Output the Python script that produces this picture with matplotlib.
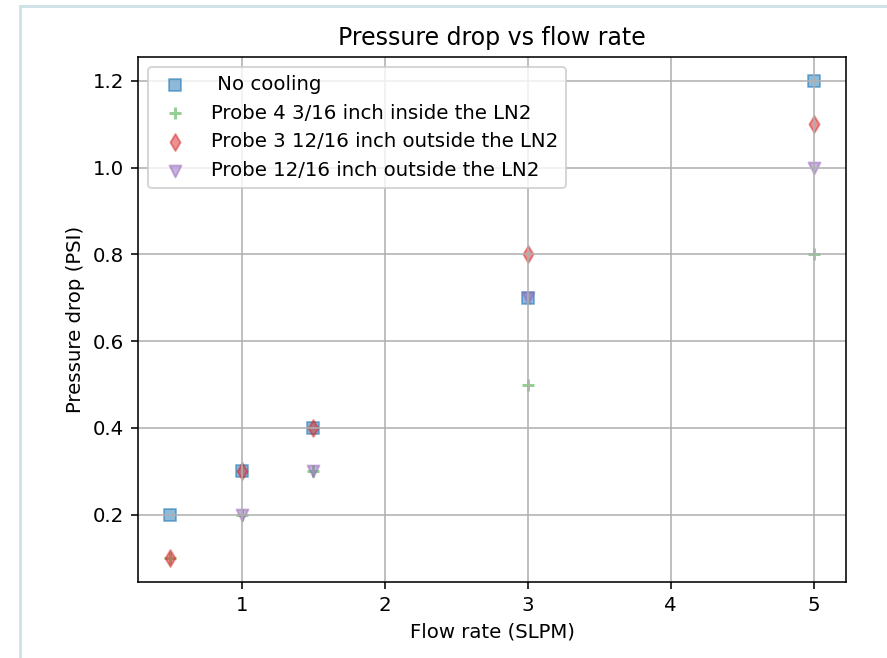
import matplotlib
matplotlib.use('Agg')
import matplotlib.pyplot as plt
from matplotlib.lines import Line2D

# flow rates (SLPM) and pressure drops (PSI)
flow_no_cooling = [0.5, 1, 1.5, 3, 5]
dp_no_cooling = [0.2, 0.3, 0.4, 0.7, 1.2]

flow_probe4 = [0.5, 1, 1.5, 3, 5]
dp_probe4 = [0.1, 0.2, 0.3, 0.5, 0.8]

flow_probe3 = [0.5, 1, 1.5, 3, 5]
dp_probe3 = [0.1, 0.3, 0.4, 0.8, 1.1]

flow_probe = [1, 1.5, 3, 5]
dp_probe = [0.2, 0.3, 0.7, 1.0]

dpi = 142
fig = plt.figure(figsize=(887 / dpi, 658 / dpi), dpi=dpi)
ax = fig.add_axes([138 / 887, 1 - 582 / 658, (846 - 138) / 887, (582 - 57) / 658])

ax.scatter(flow_no_cooling, dp_no_cooling, marker='s', color='C0', alpha=0.5, label=' No cooling')
ax.scatter(flow_probe4, dp_probe4, marker='+', color='C2', alpha=0.5, label='Probe 4 3/16 inch inside the LN2')
ax.scatter(flow_probe3, dp_probe3, marker='d', color='C3', alpha=0.5, label='Probe 3 12/16 inch outside the LN2')
ax.scatter(flow_probe, dp_probe, marker='v', color='C4', alpha=0.5, label='Probe 12/16 inch outside the LN2')

ax.set_title('Pressure drop vs flow rate')
ax.set_xlabel('Flow rate (SLPM)')
ax.set_ylabel('Pressure drop (PSI)')
ax.grid(True)
ax.legend(loc='upper left')

# screenshot frame
fig.add_artist(Line2D([20 / 887, 20 / 887], [0, 1 - 6 / 658], color='#cfe2e6', lw=1.5,
                      transform=fig.transFigure))
fig.add_artist(Line2D([20 / 887, 1], [1 - 6 / 658, 1 - 6 / 658], color='#cfe2e6', lw=1.5,
                      transform=fig.transFigure))

fig.savefig('out.png', dpi=dpi)
